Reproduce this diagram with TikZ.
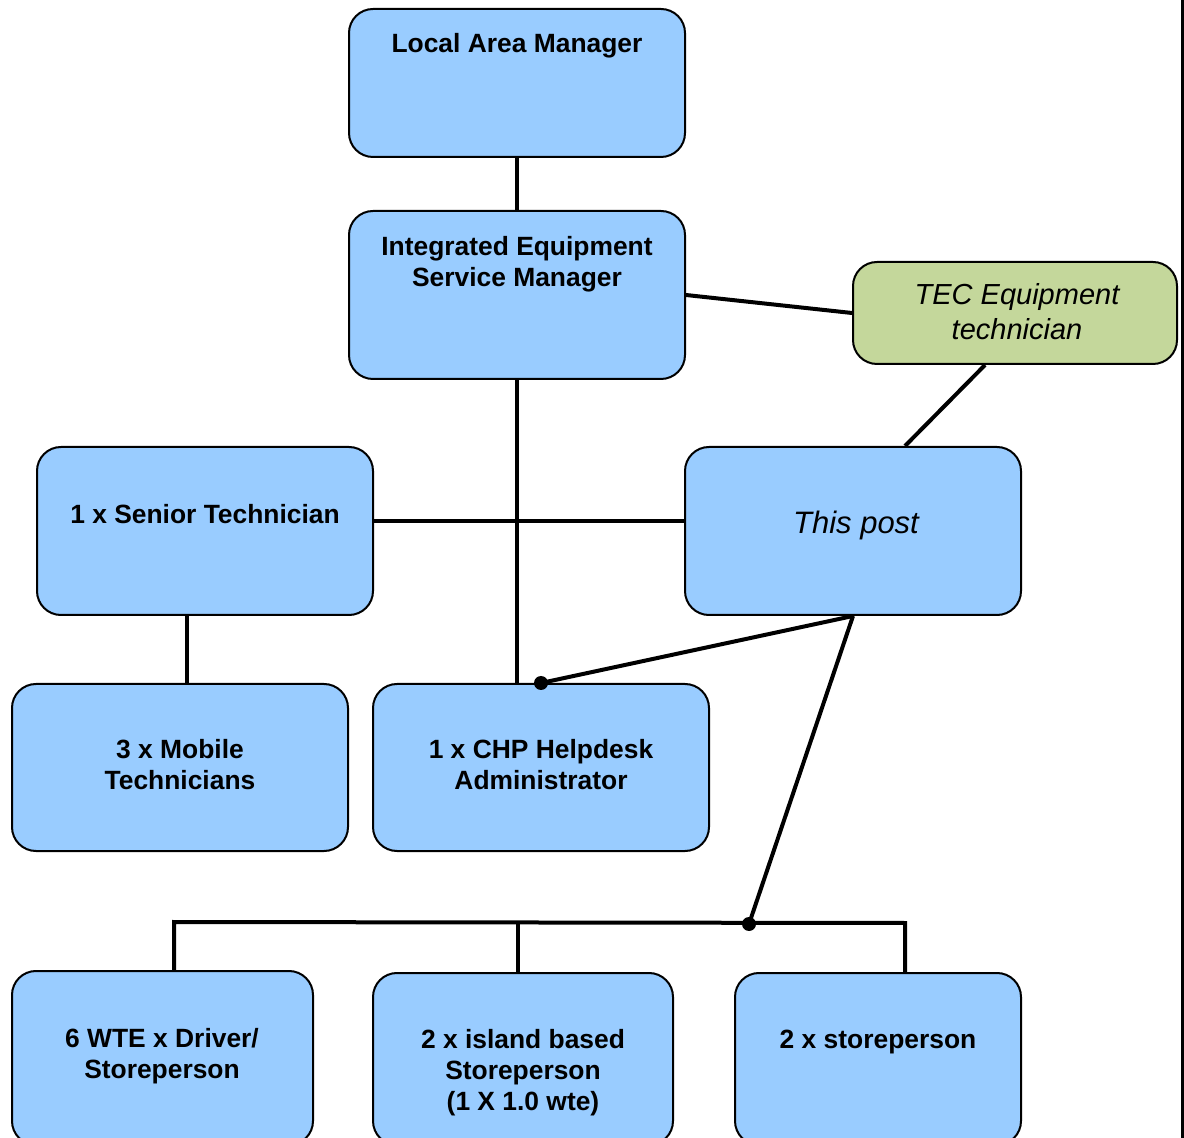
\documentclass[tikz,border=0pt]{standalone}
\usepackage{fontspec}
\setmainfont{Liberation Sans}
\usepackage{xcolor}
\usepackage{tikz}

\definecolor{boxblue}{RGB}{153,204,255}
\definecolor{tecgreen}{RGB}{196,215,155}

\begin{document}
\begin{tikzpicture}[x=0.5pt, y=-0.5pt,
  box/.style={draw, rounded corners=12pt, line width=1pt, fill=boxblue, inner sep=0pt},
  title/.style={font=\bfseries\fontsize{13.2}{15.5}\selectfont, align=center},
  conn/.style={line width=2pt}]

\path[use as bounding box] (0,0) rectangle (1184,1138);
\clip (0,0) rectangle (1184,1138);

% Top of the chart
\node[box, minimum width=168pt, minimum height=74pt] (lam) at (517,83) {};
\node[title] (lamT) at (517,46) {Local Area Manager};

\node[box, minimum width=168pt, minimum height=84pt] (iesm) at (517,295) {};
\node[title] (iesmT) at (517,264) {Integrated Equipment\\Service Manager};

\node[box, fill=tecgreen, minimum width=162pt, minimum height=51pt] (tec) at (1015,313) {};
\node[font=\itshape\fontsize{14.5}{17.5}\selectfont, align=center] (tecT) at (1017,312) {TEC Equipment\\technician};

% Middle row
\node[box, minimum width=168pt, minimum height=84pt] (senior) at (205,531) {};
\node[title] (seniorT) at (205,514) {1 x Senior Technician};

\node[box, minimum width=168pt, minimum height=84pt] (post) at (853,531) {};
\node[font=\itshape\fontsize{15.5}{18}\selectfont] (postT) at (856,525) {This post};

\node[box, minimum width=168pt, minimum height=83.5pt] (mobile) at (180,767.5) {};
\node[title] (mobileT) at (180,765) {3 x Mobile\\Technicians};

\node[box, minimum width=168pt, minimum height=83.5pt] (chp) at (541,767.5) {};
\node[title] (chpT) at (541,765) {1 x CHP Helpdesk\\Administrator};

% Bottom row (cut off by the page)
\node[box, minimum width=150.5pt, minimum height=87pt] (driver) at (162.5,1058) {};
\node[title] (driverT) at (162,1056) {6 WTE x Driver/\\Storeperson};

\node[box, minimum width=150pt, minimum height=86pt] (island) at (523,1059) {};
\node[title] (islandT) at (523,1073) {2 x island based\\Storeperson\\(1 X 1.0 wte)};

\node[box, minimum width=143pt, minimum height=86pt] (store) at (878,1059) {};
\node[title] (storeT) at (878,1042) {2 x storeperson};

% Connectors
\draw[conn] (lam.south) -- (iesm.north);
\draw[conn] (iesm.east) -- (tec.west);
\draw[conn] (tec.south -| 985,0) -- (post.north -| 905,0);
\draw[conn] (iesm.south) -- (iesm.south |- chp.north);
\draw[conn] (senior.east |- 0,521) -- (post.west |- 0,521);
\draw[conn] (senior.south -| 187,0) -- (mobile.north -| 187,0);
\draw[conn] (post.south) -- (chp.north);
\fill (chp.north) circle (3.5pt);

% Bus to the stores staff
\coordinate (busL) at (174,922);
\coordinate (busM) at (518,922);
\coordinate (busR) at (905,923);
\coordinate (busDot) at (749,924);
\draw[conn] (post.south) -- (busDot);
\fill (busDot) circle (3.5pt);
\draw[conn] (driver.north -| busL) -- (busL) -- (busR) -- (store.north -| busR);
\draw[conn] (busM) -- (island.north -| busM);

% Page edge
\draw[line width=1.5pt] (1182,0) -- (1182,1138);

\end{tikzpicture}
\end{document}
